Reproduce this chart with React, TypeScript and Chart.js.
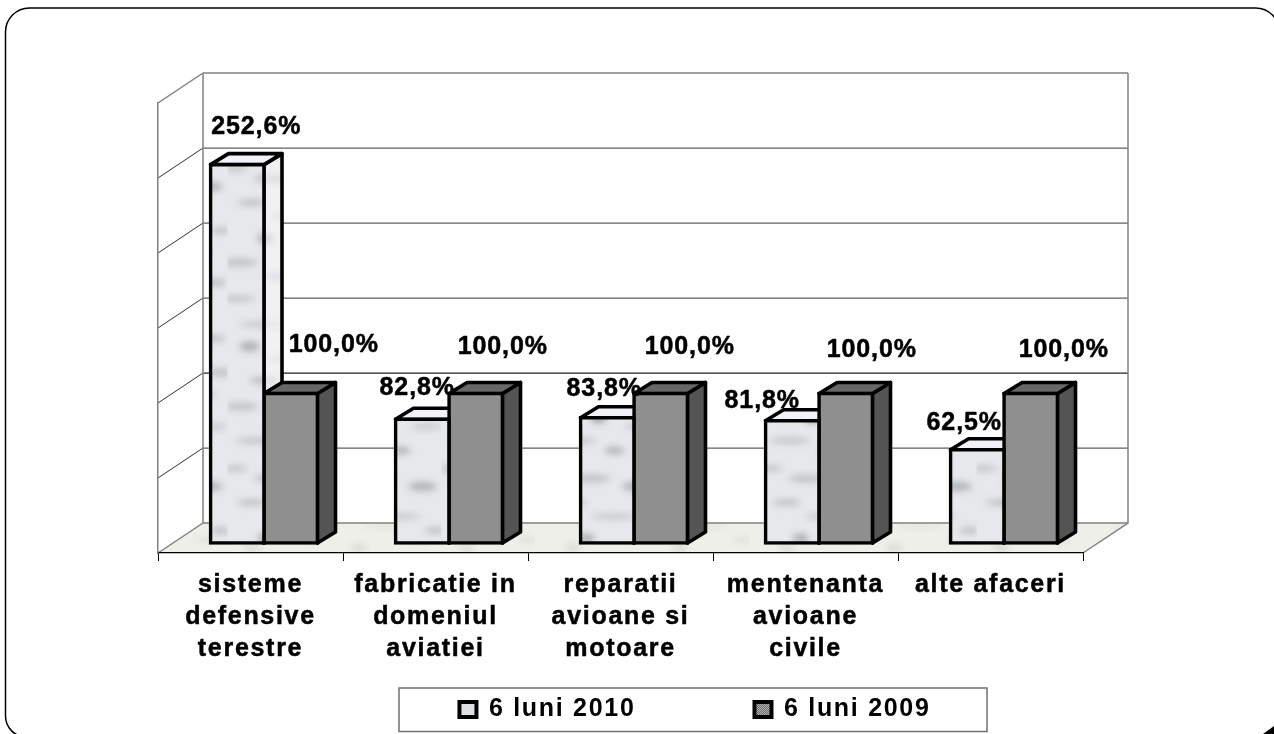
import React, { useEffect, useRef } from "react";
import { Chart, registerables } from "chart.js";

Chart.register(...registerables);

const categories = [
  ["sisteme", "defensive", "terestre"],
  ["fabricatie in", "domeniul", "aviatiei"],
  ["reparatii", "avioane si", "motoare"],
  ["mentenanta", "avioane", "civile"],
  ["alte afaceri"],
];
const seriesNames = ["6 luni 2010", "6 luni 2009"];
const values2010 = [252.6, 82.8, 83.8, 81.8, 62.5];
const values2009 = [100, 100, 100, 100, 100];
const valueLabels2010 = ["252,6%", "82,8%", "83,8%", "81,8%", "62,5%"];
const valueLabels2009 = ["100,0%", "100,0%", "100,0%", "100,0%", "100,0%"];
const labelNudge2010 = [[19, -37], [-5, -31], [-3, -29], [-30, -20], [-13, -27]];
const labelNudge2009 = [[43, -48], [27, -46], [29, -46], [26, -43], [33, -43]];
const darkGridValues = [100];

const FONT = '"Liberation Sans", Arial, sans-serif';
const PLANE_DX = 13.5;
const PLANE_DY = -9.5;
const BAR_DX = 18;
const BAR_DY = -11;
const BACK_DX = 45;
const BACK_DY = -30;

const smudges = [
  [10, 8, 18, 3, 0.3], [70, 20, 14, 4, 0.4], [34, 34, 22, 3, 0.25], [90, 48, 16, 3, 0.35],
  [22, 56, 10, 5, 0.45], [60, 68, 20, 3, 0.25], [100, 82, 12, 4, 0.3], [36, 90, 14, 3, 0.4],
  [78, 104, 18, 3, 0.3], [14, 116, 16, 4, 0.3], [50, 128, 8, 5, 0.5], [92, 136, 16, 3, 0.25],
  [28, 150, 20, 3, 0.3], [66, 160, 10, 4, 0.4], [8, 178, 12, 3, 0.3], [44, 188, 18, 4, 0.3],
  [88, 196, 14, 5, 0.4], [24, 212, 14, 3, 0.35], [64, 226, 22, 3, 0.25], [100, 240, 10, 3, 0.35],
  [38, 248, 8, 5, 0.45], [74, 262, 16, 3, 0.3], [12, 272, 18, 4, 0.3], [52, 286, 14, 3, 0.35],
  [94, 292, 12, 4, 0.3],
];

function marble(base: string, smudge: string, strength = 1) {
  const w = 107;
  const h = 300;
  const c = document.createElement("canvas");
  c.width = w;
  c.height = h;
  const g = c.getContext("2d")!;
  g.fillStyle = base;
  g.fillRect(0, 0, w, h);
  g.filter = "blur(3px)";
  g.fillStyle = smudge;
  smudges.forEach(([x, y, rx, ry, a]) => {
    g.globalAlpha = a * strength;
    g.beginPath();
    g.ellipse(x, y, rx, ry, 0, 0, Math.PI * 2);
    g.fill();
  });
  return g.createPattern(c, "repeat")!;
}

function dither(a: string, b: string) {
  const c = document.createElement("canvas");
  c.width = 2;
  c.height = 2;
  const g = c.getContext("2d")!;
  g.fillStyle = a;
  g.fillRect(0, 0, 2, 2);
  g.fillStyle = b;
  g.fillRect(0, 0, 1, 1);
  g.fillRect(1, 1, 1, 1);
  return g.createPattern(c, "repeat")!;
}

export default function App() {
  const ref = useRef<HTMLCanvasElement>(null);

  useEffect(() => {
    document.body.style.margin = "0";
    const front2010 = marble("#e6e8eb", "#6f7276", 1);
    const side2010 = marble("#f1f1f4", "#9a9ca0", 0.7);
    const floorFill = marble("#efefea", "#b0b0a4", 0.6);
    const legend2010 = "#dfe0e4";
    const front2009 = dither("#6c6c6c", "#b2b2b2");
    const side2009 = dither("#383838", "#707070");
    const top2009 = dither("#505050", "#808080");
    const top2010 = "#f1f1f8";

    const plugin = {
      id: "bars3d",
      beforeLayout(chart: any) {
        chart.ctx.letterSpacing = "1.7px";
      },
      afterLayout(chart: any) {
        chart.legend.left += 74.5;
        chart.legend.right += 74.5;
        chart.scales.x.bottom = 680;
      },
      beforeDraw(chart: any) {
        const { ctx, scales } = chart;
        const y = scales.y;
        const x = scales.x;
        ctx.letterSpacing = "1.7px";
        ctx.save();
        ctx.fillStyle = "#ffffff";
        ctx.fillRect(0, 0, chart.width, chart.height);
        ctx.strokeStyle = "#000000";
        ctx.lineWidth = 1.5;
        ctx.beginPath();
        ctx.roundRect(5.5, 8, 1274, 729, [24, 24, 24, 21]);
        ctx.stroke();
        ctx.fillStyle = "#000000";
        ctx.beginPath();
        ctx.moveTo(1263, 734);
        ctx.lineTo(1274, 726);
        ctx.lineTo(1274, 734);
        ctx.fill();

        // floor
        const y0 = y.getPixelForValue(0);
        const left = x.left;
        const right = x.right;
        ctx.fillStyle = floorFill;
        ctx.beginPath();
        ctx.moveTo(left, y0);
        ctx.lineTo(left + BACK_DX, y0 + BACK_DY);
        ctx.lineTo(right + BACK_DX, y0 + BACK_DY);
        ctx.lineTo(right, y0);
        ctx.closePath();
        ctx.fill();

        // walls and grid from the value scale
        y.ticks.forEach((t: any) => {
          const py = y.getPixelForValue(t.value);
          const edge = t.value === y.min || t.value === y.max;
          ctx.beginPath();
          ctx.moveTo(left, py);
          ctx.lineTo(left + BACK_DX, py + BACK_DY);
          ctx.strokeStyle = edge ? "#808080" : "#303030";
          ctx.lineWidth = edge ? 1.5 : 1;
          ctx.stroke();
          ctx.beginPath();
          ctx.moveTo(left + BACK_DX, py + BACK_DY);
          ctx.lineTo(right + BACK_DX, py + BACK_DY);
          ctx.strokeStyle = edge ? "#808080" : darkGridValues.includes(t.value) ? "#202020" : "#606060";
          ctx.lineWidth = edge ? 1.5 : 1.25;
          ctx.stroke();
        });
        ctx.strokeStyle = "#808080";
        ctx.lineWidth = 1.5;
        ctx.beginPath();
        ctx.moveTo(left + BACK_DX, y.top + BACK_DY);
        ctx.lineTo(left + BACK_DX, y0 + BACK_DY);
        ctx.moveTo(right + BACK_DX, y.top + BACK_DY);
        ctx.lineTo(right + BACK_DX, y0 + BACK_DY);
        ctx.lineTo(right, y0);
        ctx.stroke();

        // legend frame
        ctx.fillStyle = "#ffffff";
        ctx.strokeStyle = "#707070";
        ctx.lineWidth = 1.5;
        ctx.fillRect(399, 688, 588, 43.5);
        ctx.strokeRect(399, 688, 588, 43.5);
        ctx.restore();
      },
      beforeDatasetsDraw(chart: any) {
        const { ctx } = chart;
        ctx.save();
        ctx.translate(PLANE_DX, PLANE_DY);
        const tones = [
          { side: side2010, top: top2010 },
          { side: side2009, top: top2009 },
        ];
        ctx.strokeStyle = "#000000";
        ctx.lineWidth = 3.6;
        ctx.lineJoin = "round";
        [0, 1].forEach((d) => {
          chart.getDatasetMeta(d).data.forEach((el: any) => {
            const { x, y, base, width } = el.getProps(["x", "y", "base", "width"], true);
            const x0 = x - width / 2;
            const x1 = x + width / 2;
            ctx.fillStyle = tones[d].side;
            ctx.beginPath();
            ctx.moveTo(x1, y);
            ctx.lineTo(x1 + BAR_DX, y + BAR_DY);
            ctx.lineTo(x1 + BAR_DX, base + BAR_DY);
            ctx.lineTo(x1, base);
            ctx.closePath();
            ctx.fill();
            ctx.stroke();
            ctx.fillStyle = tones[d].top;
            ctx.beginPath();
            ctx.moveTo(x0, y);
            ctx.lineTo(x0 + BAR_DX, y + BAR_DY);
            ctx.lineTo(x1 + BAR_DX, y + BAR_DY);
            ctx.lineTo(x1, y);
            ctx.closePath();
            ctx.fill();
            ctx.stroke();
          });
        });
      },
      afterDatasetsDraw(chart: any) {
        const { ctx } = chart;
        const sets = [
          { labels: valueLabels2010, nudge: labelNudge2010 },
          { labels: valueLabels2009, nudge: labelNudge2009 },
        ];
        sets.forEach((s, d) => {
          chart.getDatasetMeta(d).data.forEach((el: any, i: number) => {
            const { x, y } = el.getProps(["x", "y"], true);
            ctx.fillStyle = "#000000";
            ctx.strokeStyle = "#000000";
            ctx.lineWidth = 0.5;
            ctx.font = `bold 25px ${FONT}`;
            ctx.letterSpacing = "0.9px";
            ctx.textAlign = "center";
            ctx.textBaseline = "middle";
            ctx.fillText(s.labels[i], x + s.nudge[i][0], y + s.nudge[i][1]);
            ctx.strokeText(s.labels[i], x + s.nudge[i][0], y + s.nudge[i][1]);
          });
        });
        ctx.restore();
        ctx.letterSpacing = "1.7px";
      },
    };

    const barStyle = {
      borderColor: "#000000",
      borderWidth: 3.6,
      borderSkipped: false,
      inflateAmount: 1.8,
      clip: false,
      categoryPercentage: 107 / 185,
      barPercentage: 1,
    };

    const chart = new Chart(ref.current!, {
      type: "bar",
      data: {
        labels: categories,
        datasets: [
          { label: seriesNames[0], data: values2010, backgroundColor: front2010, ...barStyle },
          { label: seriesNames[1], data: values2009, backgroundColor: front2009, ...barStyle },
        ],
      },
      plugins: [plugin],
      options: {
        animation: false,
        responsive: false,
        devicePixelRatio: 1,
        events: [],
        layout: { padding: { left: 158, right: 191, top: 103, bottom: 2 } },
        scales: {
          x: {
            offset: true,
            afterFit(s: any) {
              s.height = 25;
            },
            grid: { offset: true, drawOnChartArea: false, tickLength: 8, tickColor: "#000000", tickWidth: 1 },
            border: { color: "#000000", width: 1.25 },
            ticks: {
              color: "#000000",
              textStrokeColor: "#000000",
              textStrokeWidth: 0.5,
              autoSkip: false,
              maxRotation: 0,
              minRotation: 0,
              padding: 8,
              font: { family: FONT, size: 25, weight: "bold", lineHeight: 1.28 },
            },
          },
          y: {
            min: 0,
            max: 300,
            afterFit(s: any) {
              s.width = 0;
            },
            ticks: { display: false, stepSize: 50 },
            grid: { drawOnChartArea: false, drawTicks: false },
            border: { color: "#808080", width: 1.5 },
          },
        },
        plugins: {
          tooltip: { enabled: false },
          title: { display: false },
          legend: {
            display: true,
            position: "bottom",
            labels: {
              color: "#000000",
              boxWidth: 17,
              boxHeight: 15,
              padding: 119,
              font: { family: FONT, size: 25, weight: "bold" },
              generateLabels: () => [
                { text: seriesNames[0], fillStyle: legend2010, strokeStyle: "#000000", lineWidth: 4, datasetIndex: 0, hidden: false },
                { text: seriesNames[1], fillStyle: front2009, strokeStyle: "#000000", lineWidth: 4, datasetIndex: 1, hidden: false },
              ],
            },
          },
        },
      },
    } as any);
    return () => chart.destroy();
  }, []);

  return <canvas ref={ref} width={1274} height={734} style={{ display: "block" }} />;
}
